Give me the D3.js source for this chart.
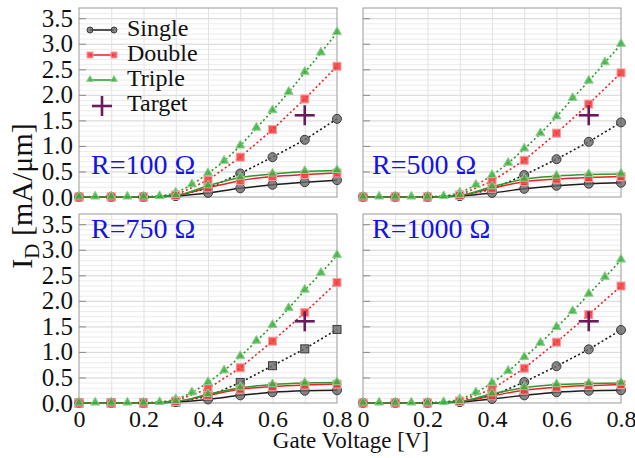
<!DOCTYPE html>
<html>
<head>
<meta charset="utf-8">
<script src="https://cdn.jsdelivr.net/npm/d3@7"></script>
<style>
  body { margin: 0; background: #fff; }
  svg { display: block; }
  svg text { font-family: "Liberation Serif", "Tinos", "Nimbus Roman", "DejaVu Serif", serif; }
</style>
</head>
<body>
<svg id="chart"></svg>
<script>
var width = 635;
var height = 458;

// gate voltage steps
var vgCoarse = [0, 0.1, 0.2, 0.3, 0.4, 0.5, 0.6, 0.7, 0.8];
var vgFine = [0, 0.05, 0.1, 0.15, 0.2, 0.25, 0.3, 0.35, 0.4, 0.45, 0.5, 0.55, 0.6, 0.65, 0.7, 0.75, 0.8];

var panelLabels = ["R=100 \u03A9", "R=500 \u03A9", "R=750 \u03A9", "R=1000 \u03A9"];

// dotted curves (no series resistance)
var singleIdeal = [
  [0, 0, 0, 0.02, 0.17, 0.46, 0.78, 1.12, 1.53],
  [0, 0, 0, 0.02, 0.15, 0.43, 0.74, 1.08, 1.46],
  [0, 0, 0, 0.02, 0.13, 0.40, 0.73, 1.06, 1.44],
  [0, 0, 0, 0.02, 0.14, 0.41, 0.72, 1.05, 1.43]
];
var doubleIdeal = [
  [0, 0, 0, 0.04, 0.33, 0.78, 1.32, 1.92, 2.56],
  [0, 0, 0, 0.04, 0.31, 0.72, 1.25, 1.82, 2.43],
  [0, 0, 0, 0.04, 0.28, 0.69, 1.21, 1.77, 2.36],
  [0, 0, 0, 0.04, 0.27, 0.68, 1.19, 1.73, 2.29]
];
var tripleIdeal = [
  [0, 0, 0, 0, 0, 0.01, 0.08, 0.24, 0.46, 0.70, 1.00, 1.35, 1.69, 2.05, 2.44, 2.82, 3.22],
  [0, 0, 0, 0, 0, 0.01, 0.08, 0.23, 0.42, 0.66, 0.94, 1.24, 1.57, 1.93, 2.27, 2.63, 2.99],
  [0, 0, 0, 0, 0, 0.01, 0.07, 0.20, 0.40, 0.63, 0.91, 1.21, 1.52, 1.85, 2.21, 2.54, 2.89],
  [0, 0, 0, 0, 0, 0.01, 0.07, 0.20, 0.39, 0.62, 0.89, 1.17, 1.48, 1.79, 2.13, 2.46, 2.80]
];

// solid curves (with series resistance R)
var singleR = [
  [0, 0, 0, 0.02, 0.08, 0.17, 0.24, 0.29, 0.33],
  [0, 0, 0, 0.02, 0.08, 0.16, 0.22, 0.26, 0.28],
  [0, 0, 0, 0.02, 0.07, 0.15, 0.21, 0.24, 0.25],
  [0, 0, 0, 0.02, 0.08, 0.15, 0.21, 0.24, 0.25]
];
var doubleR = [
  [0, 0, 0, 0.03, 0.18, 0.32, 0.40, 0.44, 0.47],
  [0, 0, 0, 0.03, 0.17, 0.30, 0.35, 0.38, 0.40],
  [0, 0, 0, 0.03, 0.15, 0.27, 0.32, 0.35, 0.37],
  [0, 0, 0, 0.03, 0.14, 0.25, 0.31, 0.34, 0.36]
];
var tripleR = [
  [0, 0, 0, 0.03, 0.22, 0.38, 0.45, 0.50, 0.52],
  [0, 0, 0, 0.03, 0.20, 0.35, 0.41, 0.44, 0.45],
  [0, 0, 0, 0.03, 0.17, 0.30, 0.36, 0.39, 0.40],
  [0, 0, 0, 0.03, 0.18, 0.30, 0.36, 0.38, 0.39]
];

var target = [0.7, 1.6];

var yMajor = [0, 0.5, 1, 1.5, 2, 2.5, 3, 3.5];
var xTicks = [0, 0.2, 0.4, 0.6, 0.8];
var legendNames = ["Single", "Double", "Triple", "Target"];

var pw = 258;
var ph = 189;
var panelX = [79, 363, 79, 363];
var panelY = [8, 8, 214, 214];

var styles = {
  single: { line: "#1c1c1c", fill: "rgba(105,105,105,0.8)", stroke: "#3a3a3a" },
  double: { line: "#ee2020", fill: "rgba(245,55,55,0.85)", stroke: "#f7a0a0" },
  triple: { line: "#2a9a2a", fill: "rgba(60,175,60,0.85)", stroke: "#90d090" }
};
var targetColor = "#6b1a5e";

var svg = d3.select("#chart").attr("width", width).attr("height", height);

var marker = (g, type, cx, cy, st, s) => {
  if (type == "circle") {
    g.append("circle").attr("cx", cx).attr("cy", cy).attr("r", s)
      .attr("fill", st.fill).attr("stroke", st.stroke).attr("stroke-width", 1);
  } else if (type == "square") {
    g.append("rect").attr("x", cx - s).attr("y", cy - s)
      .attr("width", 2 * s).attr("height", 2 * s)
      .attr("fill", st.fill).attr("stroke", st.stroke).attr("stroke-width", 1);
  } else {
    g.append("path")
      .attr("d", d3.symbol(d3.symbolTriangle, s * s * 2.2)())
      .attr("transform", "translate(" + cx + "," + (cy - 0.5) + ")")
      .attr("fill", st.fill).attr("stroke", st.stroke).attr("stroke-width", 1);
  }
};

var plus = (g, cx, cy) => {
  g.append("line").attr("x1", cx - 10).attr("x2", cx + 10).attr("y1", cy).attr("y2", cy)
    .attr("stroke", targetColor).attr("stroke-width", 2.6);
  g.append("line").attr("x1", cx).attr("x2", cx).attr("y1", cy - 10).attr("y2", cy + 10)
    .attr("stroke", targetColor).attr("stroke-width", 2.6);
};

panelLabels.forEach((label, i) => {
  var g = svg.append("g")
    .attr("transform", "translate(" + panelX[i] + "," + panelY[i] + ")");

  var xScale = d3.scaleLinear().domain([0, 0.8]).range([0, pw]);
  var yScale = d3.scaleLinear().domain([0, 3.7]).range([ph, 0]);

  // grid
  g.append("g")
    .call(d3.axisLeft(yScale).tickValues(d3.range(1, 37).map((d) => d / 10)).tickSize(-pw).tickFormat(""))
    .call((a) => a.select(".domain").remove())
    .selectAll("line").attr("stroke", "#ececec");
  g.append("g")
    .call(d3.axisLeft(yScale).tickValues(yMajor.slice(1)).tickSize(-pw).tickFormat(""))
    .call((a) => a.select(".domain").remove())
    .selectAll("line").attr("stroke", "#dadada");
  g.append("g")
    .attr("transform", "translate(0," + ph + ")")
    .call(d3.axisBottom(xScale).tickValues(d3.range(1, 8).map((d) => d / 10)).tickSize(-ph).tickFormat(""))
    .call((a) => a.select(".domain").remove())
    .selectAll("line").attr("stroke", "#e2e2e2");

  g.append("rect").attr("width", pw).attr("height", ph)
    .attr("fill", "none").attr("stroke", "#9a9a9a").attr("stroke-width", 1);

  // y ticks (labels on left panels only)
  var yAxis = d3.axisLeft(yScale).tickValues(yMajor).tickSize(-7).tickPadding(6)
    .tickFormat(i % 2 == 0 ? d3.format(".1f") : () => "");
  var ya = g.append("g").call(yAxis);
  ya.attr("font-family", null);
  ya.select(".domain").remove();
  ya.selectAll("line").attr("stroke", "#8a8a8a");
  ya.selectAll("text").attr("font-size", 25).attr("fill", "#111");

  // x tick labels on bottom panels
  if (i >= 2) {
    var xa = g.append("g")
      .attr("transform", "translate(0," + ph + ")")
      .call(d3.axisBottom(xScale).tickValues(xTicks).tickSize(0).tickPadding(7)
        .tickFormat((d) => (d == 0 ? "0" : d3.format(".1f")(d))));
    xa.attr("font-family", null);
    xa.select(".domain").remove();
    xa.selectAll("text").attr("font-size", 24).attr("fill", "#111");
  }

  var line = d3.line().x((d) => xScale(d[0])).y((d) => yScale(d[1]));
  var smooth = d3.line().x((d) => xScale(d[0])).y((d) => yScale(d[1])).curve(d3.curveMonotoneX);

  var series = [
    { v: vgCoarse, y: singleIdeal[i], st: styles.single, m: i == 2 ? "square" : "circle", dot: true },
    { v: vgCoarse, y: doubleIdeal[i], st: styles.double, m: "square", dot: true },
    { v: vgFine, y: tripleIdeal[i], st: styles.triple, m: "triangle", dot: true },
    { v: vgCoarse, y: singleR[i], st: styles.single, m: "circle", dot: false },
    { v: vgCoarse, y: doubleR[i], st: styles.double, m: "square", dot: false },
    { v: vgCoarse, y: tripleR[i], st: styles.triple, m: "triangle", dot: false }
  ];

  series.forEach((s) => {
    var pts = s.v.map((v, k) => [v, s.y[k]]);
    g.append("path")
      .attr("d", (s.dot ? line : smooth)(pts))
      .attr("fill", "none")
      .attr("stroke", s.st.line)
      .attr("stroke-width", s.dot ? 1.6 : 1.5)
      .attr("stroke-dasharray", s.dot ? "2,2.5" : null);
  });
  series.forEach((s) => {
    s.v.forEach((v, k) => {
      marker(g, s.m, xScale(v), yScale(s.y[k]), s.st, s.m == "circle" ? 4.5 : 4);
    });
  });

  plus(g, xScale(target[0]), yScale(target[1]));

  g.append("text")
    .attr("x", i % 2 == 0 ? 12 : 9)
    .attr("y", i < 2 ? ph - 23 : 24)
    .attr("font-size", 28).attr("fill", "#1414e6")
    .text(label);

  // legend in the first panel
  if (i == 0) {
    var lg = svg.append("g");
    var keys = ["single", "double", "triple"];
    var mk = ["circle", "square", "triangle"];
    legendNames.forEach((name, k) => {
      var ly = 30 + k * 25;
      if (k < 3) {
        var st = styles[keys[k]];
        lg.append("line").attr("x1", 90).attr("x2", 114).attr("y1", ly).attr("y2", ly)
          .attr("stroke", st.line).attr("stroke-width", 1.5);
        marker(lg, mk[k], 90, ly, st, 3);
        marker(lg, mk[k], 114, ly, st, 3);
      } else {
        plus(lg, 102, ly + 1);
      }
      lg.append("text").attr("x", 127).attr("y", ly + 6)
        .attr("font-size", 24).attr("fill", "#111")
        .text(name);
    });
  }
});

// axis titles
svg.append("text")
  .attr("x", 351).attr("y", 448)
  .attr("text-anchor", "middle")
  .attr("font-size", 23).attr("fill", "#111")
  .text("Gate Voltage [V]");

var yt = svg.append("text")
  .attr("transform", "translate(32,196) rotate(-90)")
  .attr("text-anchor", "middle")
  .attr("font-size", 30).attr("fill", "#111");
yt.append("tspan").text("I");
yt.append("tspan").attr("font-size", 21).attr("dy", 7).text("D");
yt.append("tspan").attr("dy", -7).text(" [mA/\u03BCm]");
</script>
</body>
</html>
